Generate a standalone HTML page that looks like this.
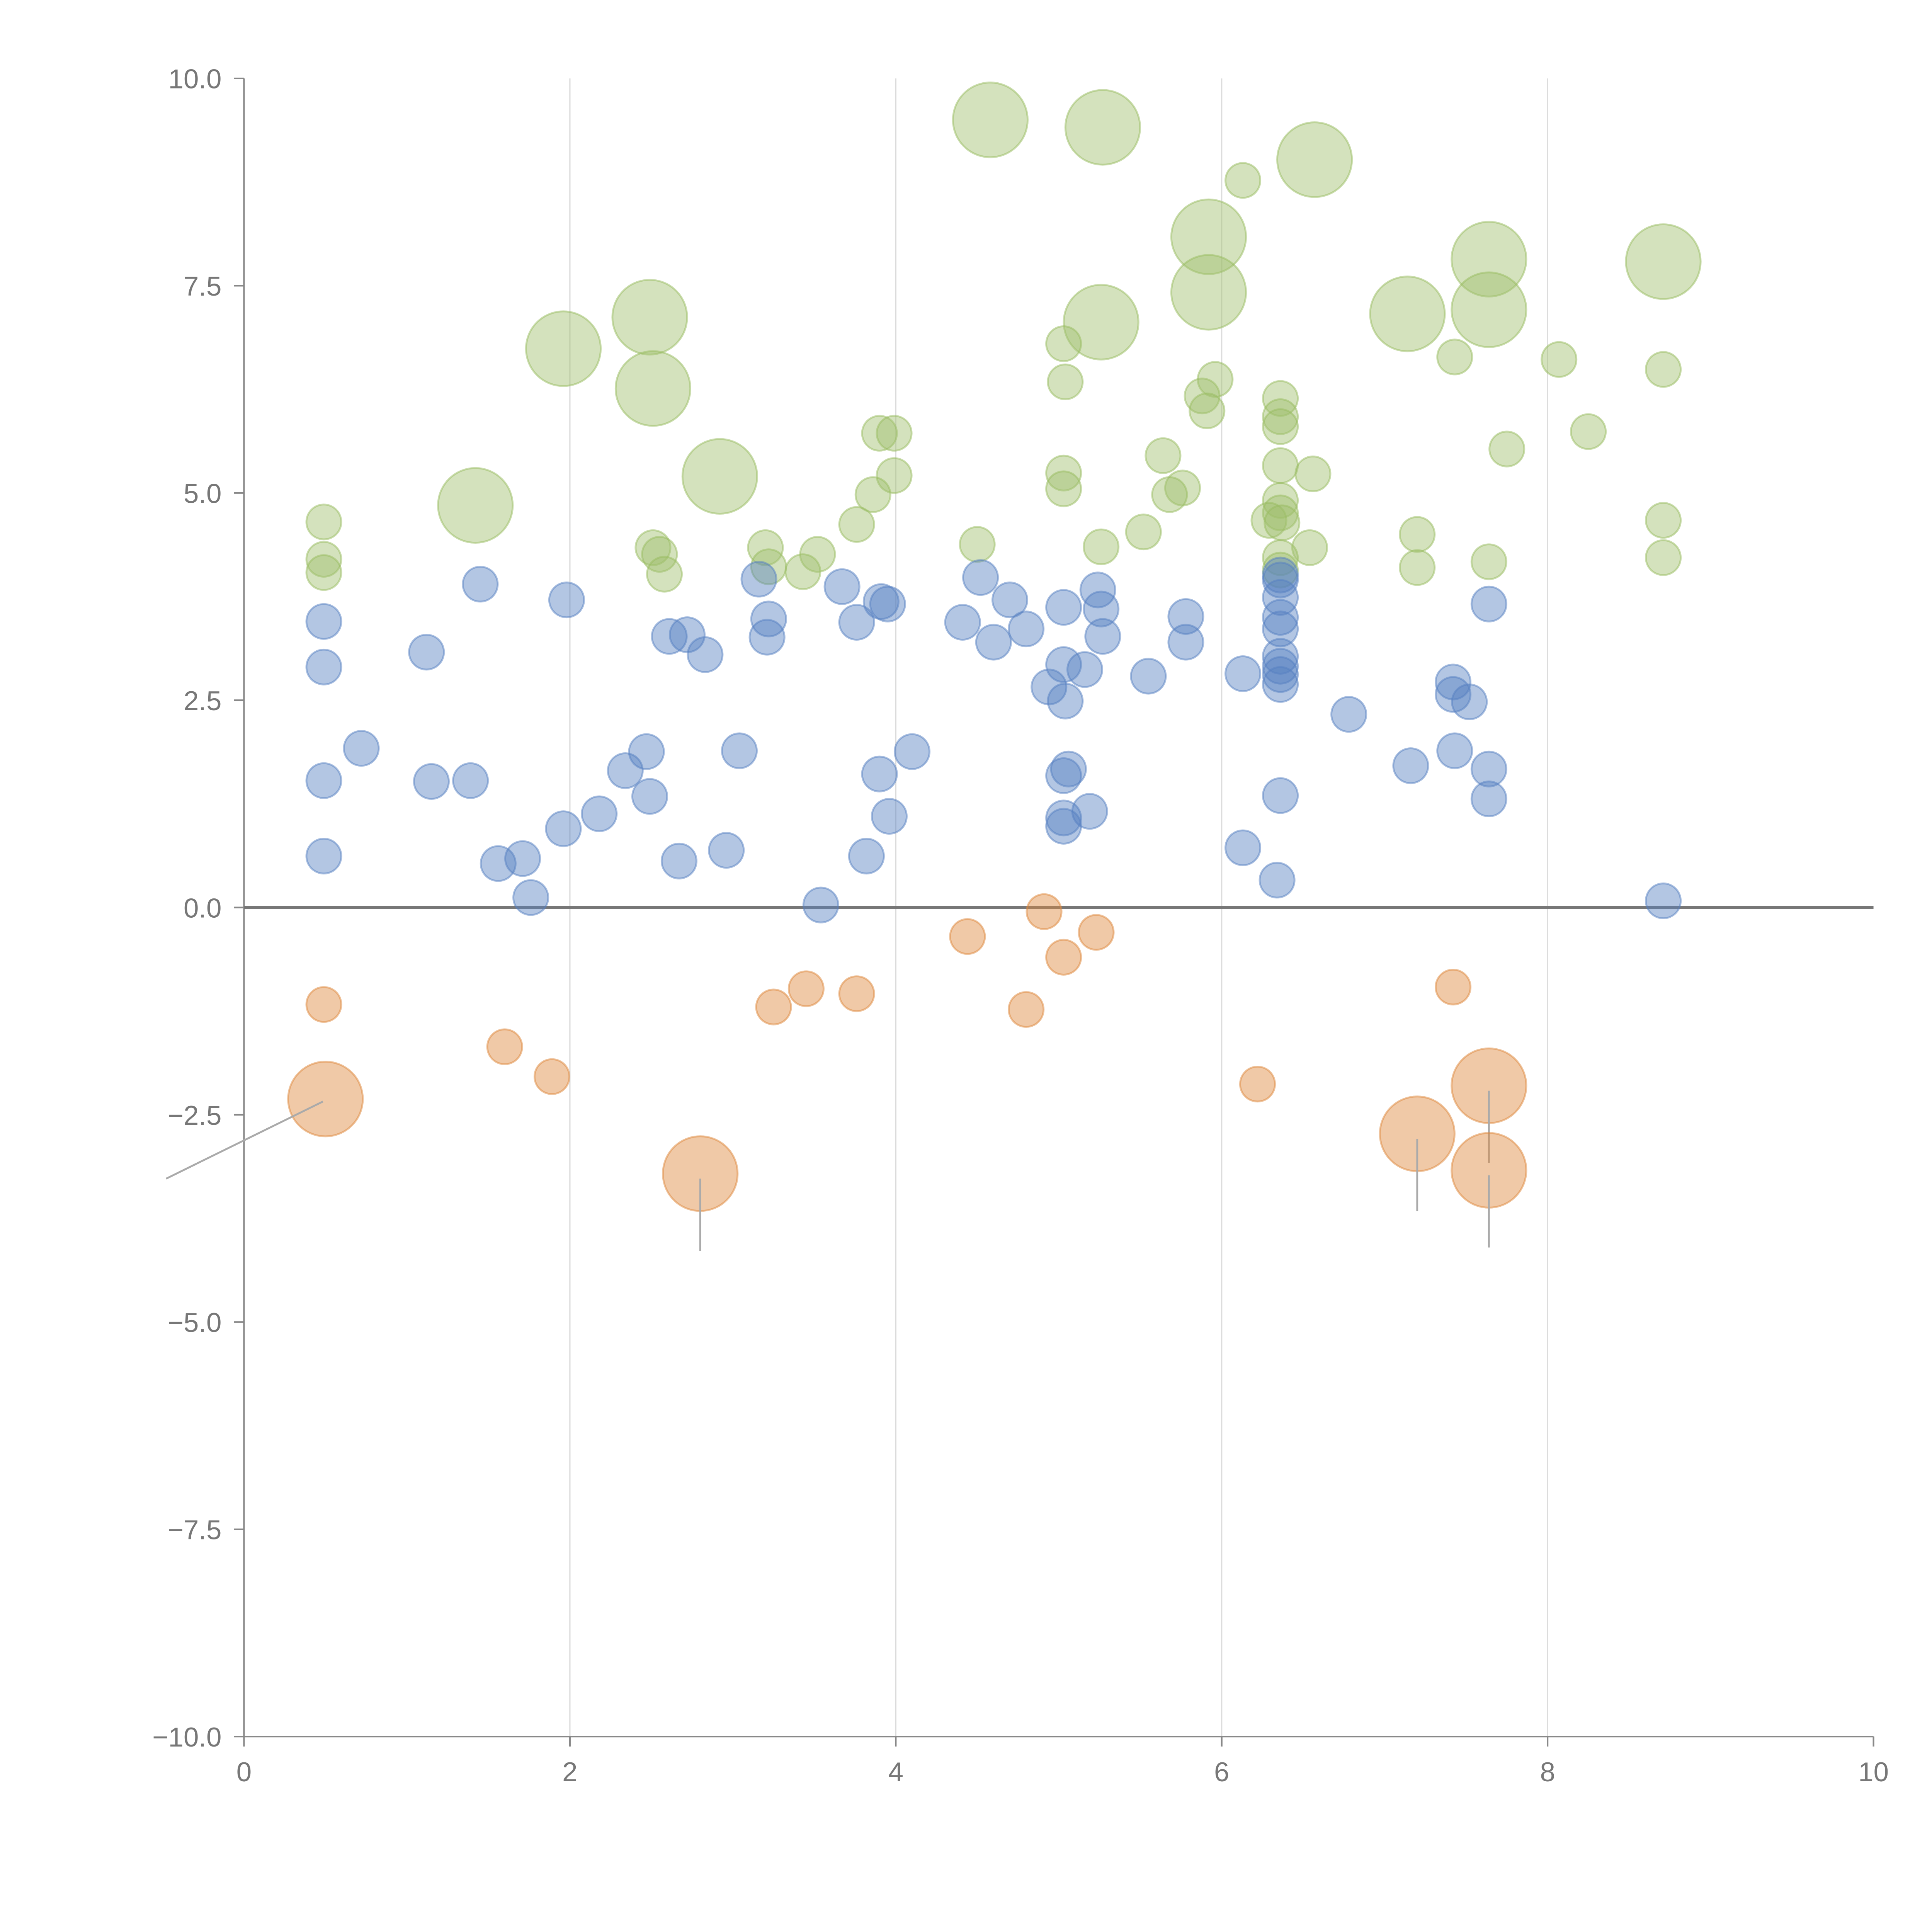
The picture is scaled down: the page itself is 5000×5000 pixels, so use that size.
<!DOCTYPE html>
<html><head><meta charset="utf-8"><style>
html,body{margin:0;padding:0;background:#fff}
svg{display:block}
text{font-family:"Liberation Sans",sans-serif;fill:#777}
</style></head><body>
<svg id="chart" width="5000" height="5000" viewBox="0 0 1552 1552" xmlns="http://www.w3.org/2000/svg">
<g id="grid"></g>
<g id="axes"></g>
<g id="marks"></g>
</svg>
<script>
const greenX=[4.58,5.27,6.57,5.92,5.92,7.64,8.71,7.64,7.14,5.26,2.49,1.96,2.51,2.92,1.42,6.13,7.43,8.07,8.71,5.03,5.04,5.96,5.88,5.91,6.36,6.36,6.36,8.25,3.9,3.99,3.99,7.75,5.64,6.36,6.56,5.03,5.03,5.76,5.68,3.86,6.36,6.36,6.29,6.37,8.71,0.49,3.76,5.52,7.2,4.5,5.26,6.54,2.51,2.55,3.2,3.52,6.36,8.71,0.49,7.64,3.22,3.43,7.2,0.49,2.58,6.36];
const greenY=[9.5,9.41,9.02,8.09,7.42,7.82,7.79,7.21,7.16,7.06,7.12,6.74,6.26,5.2,4.85,8.77,6.64,6.61,6.49,6.8,6.34,6.37,6.17,5.99,6.14,5.92,5.8,5.74,5.72,5.72,5.21,5.53,5.45,5.33,5.23,5.24,5.05,5.06,4.98,4.98,4.91,4.76,4.67,4.64,4.67,4.65,4.62,4.53,4.5,4.38,4.35,4.34,4.34,4.26,4.34,4.26,4.22,4.22,4.2,4.17,4.11,4.05,4.1,4.04,4.02,4.07];
const greenS=[2,2,2,2,2,2,2,2,2,2,2,2,2,2,2,1,1,1,1,1,1,1,1,1,1,1,1,1,1,1,1,1,1,1,1,1,1,1,1,1,1,1,1,1,1,1,1,1,1,1,1,1,1,1,1,1,1,1,1,1,1,1,1,1,1,1];
const blueX=[1.45,1.98,0.49,0.49,1.12,0.72,0.49,1.15,1.39,0.49,1.56,1.71,1.76,1.96,2.18,2.34,2.47,2.49,2.67,2.96,3.04,2.61,2.72,2.83,3.16,3.22,3.21,3.54,3.67,3.76,3.82,3.9,3.91,3.95,3.96,4.1,4.41,4.52,4.6,4.7,4.8,4.94,5.03,5.03,5.04,5.06,5.03,5.03,5.03,5.16,5.19,5.24,5.26,5.27,5.55,5.78,5.78,6.13,6.13,6.36,6.36,6.36,6.36,6.36,6.36,6.36,6.36,6.36,6.36,6.34,6.78,7.16,7.42,7.42,7.52,7.43,7.64,7.64,7.64,8.71];
const blueY=[3.9,3.71,3.45,2.9,3.08,1.92,1.53,1.52,1.53,0.62,0.53,0.59,0.12,0.95,1.13,1.65,1.88,1.34,0.56,0.69,1.89,3.27,3.29,3.05,3.96,3.48,3.26,0.03,3.87,3.44,0.62,1.61,3.69,3.66,1.1,1.88,3.44,3.98,3.2,3.71,3.36,2.66,3.62,2.93,2.49,1.67,1.59,1.08,0.98,2.87,1.16,3.83,3.6,3.27,2.79,3.51,3.2,2.82,0.72,4.01,3.95,3.74,3.5,3.36,3.03,2.91,2.81,2.69,1.35,0.33,2.33,1.71,2.72,2.57,2.48,1.89,3.66,1.67,1.31,0.08];
const orangeX=[0.49,1.6,1.89,3.25,3.45,3.76,4.44,4.91,4.8,5.03,5.23,6.22,7.42,0.5,2.8,7.2,7.64,7.64];
const orangeY=[-1.17,-1.68,-2.04,-1.2,-0.98,-1.04,-0.35,-0.05,-1.23,-0.6,-0.3,-2.13,-0.96,-2.31,-3.21,-2.73,-2.15,-3.17];
const orangeS=[1,1,1,1,1,1,1,1,1,1,1,1,1,2,2,2,2,2];
const xTicks=[0,2,4,6,8,10];
const yTicks=[10,7.5,5,2.5,0,-2.5,-5,-7.5,-10];
const NS='http://www.w3.org/2000/svg';
function sx(v){return 196+v*(1505-196)/10;}
function sy(v){return 729-v*(1395-63)/20;}
function rad(s){return s===2?30:14;}
function mk(tag,attrs,parent){const e=document.createElementNS(NS,tag);for(const k in attrs)e.setAttribute(k,attrs[k]);parent.appendChild(e);return e;}
const grid=document.getElementById('grid'),axes=document.getElementById('axes'),marks=document.getElementById('marks');
xTicks.forEach(t=>{
  if(t>0&&t<10){const g=mk('line',{x1:sx(t),x2:sx(t),y1:sy(10),y2:sy(-10),stroke:'#dcdcdc','stroke-width':1},grid);
  
  }
  const tk=mk('line',{x1:sx(t),x2:sx(t),y1:sy(-10),y2:sy(-10)+8,stroke:'#888','stroke-width':1.3},axes);
  
  
  const tx=mk('text',{x:sx(t),y:sy(-10)+36,'text-anchor':'middle','font-size':22},axes);
  tx.textContent=String(t);
  
  
});
yTicks.forEach(t=>{
  const tk=mk('line',{x1:sx(0)-8,x2:sx(0),y1:sy(t),y2:sy(t),stroke:'#888','stroke-width':1.3},axes);
  
  
  const tx=mk('text',{x:sx(0)-18,y:sy(t)+8,'text-anchor':'end','font-size':22},axes);
  tx.textContent=t.toFixed(1).replace('-','\u2212');
  
  
});
const ya=mk('line',{x1:sx(0),x2:sx(0),y1:sy(10),y2:sy(-10),stroke:'#888','stroke-width':1.3},axes);


const xa=mk('line',{x1:sx(0),x2:sx(10),y1:sy(-10),y2:sy(-10),stroke:'#888','stroke-width':1.3},axes);


const zl=mk('line',{x1:sx(0),x2:sx(10),y1:sy(0),y2:sy(0),stroke:'#777','stroke-width':2.6},axes);


function series(X,Y,S,fill,stroke,name){
  X.forEach((x,i)=>{
    const s=S?S[i]:1;
    const c=mk('circle',{cx:sx(x),cy:sy(Y[i]),r:rad(s),fill:fill,'fill-opacity':0.45,stroke:stroke,'stroke-opacity':0.5,'stroke-width':1.5},marks);
    
    
    if(s===2&&name==='bubble-negative'){
      let x1=sx(x),y1=sy(Y[i])+4,x2=sx(x),y2=sy(Y[i])+62;
      if(x<1){x1=sx(x)-2;y1=sy(Y[i])+2;x2=sx(x)-128;y2=sy(Y[i])+64;}
      const l=mk('line',{x1:x1,y1:y1,x2:x2,y2:y2,stroke:'#aaa','stroke-width':1.5},marks);
      
      
    }
  });
}
series(greenX,greenY,greenS,'#a0bf6c','#98bb5f','bubble-high');
series(blueX,blueY,null,'#5680c1','#5680c1','bubble-mid');
series(orangeX,orangeY,orangeS,'#de873b','#de873b','bubble-negative');
</script>
</body></html>
